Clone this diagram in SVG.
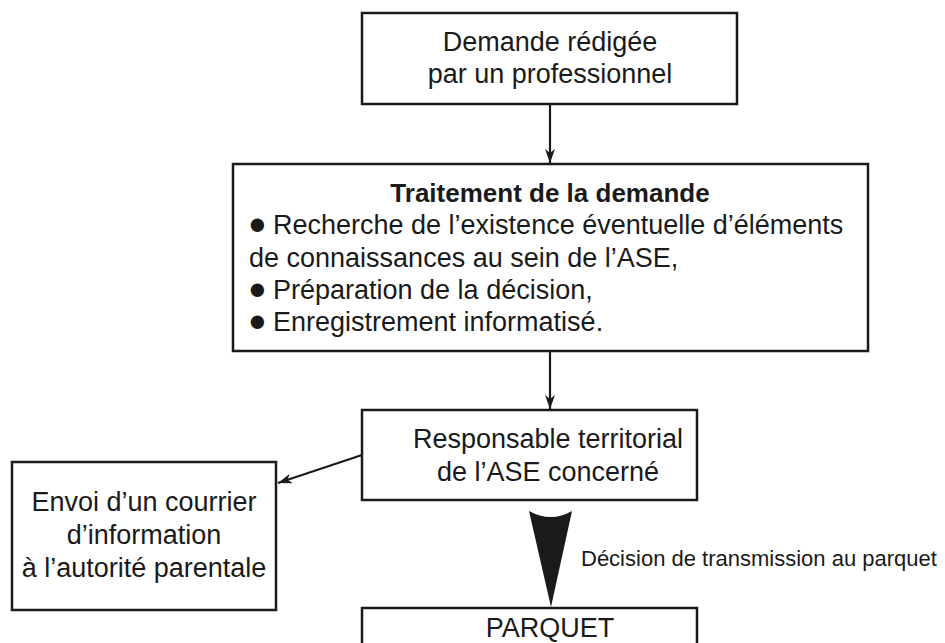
<svg xmlns="http://www.w3.org/2000/svg" width="945" height="643" viewBox="0 0 945 643">
<style>
  .box { fill: #ffffff; stroke: #1a1a1a; stroke-width: 2.5; }
  .t { font-family: "Liberation Sans", Arial, sans-serif; font-size: 27px; fill: #1a1a1a; }
  .c { text-anchor: middle; }
  .b { font-weight: bold; font-size: 26px; }
  .bul { font-size: 31px; }
  .lbl { font-family: "Liberation Sans", Arial, sans-serif; font-size: 22px; fill: #1a1a1a; }
  .conn { stroke: #1a1a1a; stroke-width: 2.2; fill: none; }
</style>
<defs>
  <marker id="ah" viewBox="0 0 14 10" refX="14" refY="5" markerWidth="14" markerHeight="10" orient="auto" markerUnits="userSpaceOnUse">
    <path d="M0,0 L14,5 L0,10 L4,5 Z" fill="#1a1a1a"/>
  </marker>
</defs>
<rect width="945" height="643" fill="#ffffff"/>

<g id="connectors">
  <line class="conn" x1="550" y1="105" x2="550" y2="163" marker-end="url(#ah)"/>
  <line class="conn" x1="550" y1="351" x2="550" y2="409" marker-end="url(#ah)"/>
  <line class="conn" x1="362" y1="455" x2="278" y2="483" marker-end="url(#ah)"/>
  <path d="M529,511 Q551,523 572,511 L551,607 Z" fill="#1a1a1a"/>
  <text class="lbl" x="581" y="566">Décision de transmission au parquet</text>
</g>

<g id="demande">
  <rect class="box" x="362" y="13" width="375" height="91"/>
  <text class="t c" x="550" y="51">Demande rédigée</text>
  <text class="t c" x="550" y="83">par un professionnel</text>
</g>

<g id="traitement">
  <rect class="box" x="233" y="164" width="635" height="187"/>
  <text class="t c b" x="550" y="202">Traitement de la demande</text>
  <text class="t" y="234"><tspan class="bul" x="248">●</tspan><tspan x="273">Recherche de l’existence éventuelle d’éléments</tspan></text>
  <text class="t" x="249" y="267">de connaissances au sein de l’ASE,</text>
  <text class="t" y="299"><tspan class="bul" x="248">●</tspan><tspan x="273">Préparation de la décision,</tspan></text>
  <text class="t" y="331"><tspan class="bul" x="248">●</tspan><tspan x="273">Enregistrement informatisé.</tspan></text>
</g>

<g id="responsable">
  <rect class="box" x="362" y="410" width="335" height="90"/>
  <text class="t c" x="548" y="448">Responsable territorial</text>
  <text class="t c" x="548" y="481">de l’ASE concerné</text>
</g>

<g id="envoi">
  <rect class="box" x="12" y="462" width="264" height="148"/>
  <text class="t c" x="144" y="511">Envoi d’un courrier</text>
  <text class="t c" x="144" y="544">d’information</text>
  <text class="t c" x="144" y="577">à l’autorité parentale</text>
</g>

<g id="parquet">
  <rect class="box" x="362" y="608" width="335" height="60"/>
  <text class="t c" x="550" y="637">PARQUET</text>
</g>
</svg>
